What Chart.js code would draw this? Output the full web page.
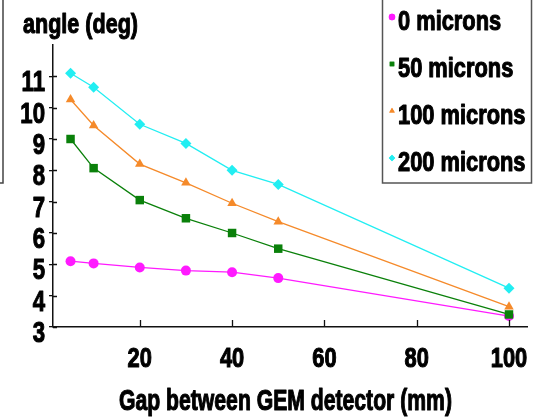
<!DOCTYPE html>
<html>
<head>
<meta charset="utf-8">
<script src="https://cdn.jsdelivr.net/npm/chart.js@4"></script>
<style>
  body { margin: 0; background: #fff; }
  #wrap { width: 533px; height: 420px; position: relative; }
</style>
</head>
<body>
<div id="wrap"><canvas id="gapChart" width="533" height="420"></canvas></div>
<script>
const FONT = "'Liberation Sans', Arial, sans-serif";

// data
const gapMm = [5, 10, 20, 30, 40, 50, 100];
const seriesNames = ["0 microns", "50 microns", "100 microns", "200 microns"];
const angle0 = [5.1, 5.03, 4.9, 4.8, 4.75, 4.56, 3.35];
const angle50 = [9.0, 8.07, 7.05, 6.47, 6.0, 5.5, 3.4];
const angle100 = [10.26, 9.43, 8.2, 7.6, 6.95, 6.36, 3.65];
const angle200 = [11.1, 10.65, 9.47, 8.86, 8.0, 7.55, 4.24];
const xTicks = [20, 40, 60, 80, 100];
const yTicks = [3, 4, 5, 6, 7, 8, 9, 10, 11];
const xTitle = "Gap between GEM detector (mm)";
const yTitle = "angle (deg)";

const colors = ["#ff1aff", "#0a800a", "#f58a2a", "#22eef2"];
const styles = ["circle", "rect", "triangle", "rectRot"];
const radii = [5, 6, 5.5, 5.5];

const series = [angle0, angle50, angle100, angle200];
const datasets = series.map((vals, i) => ({
  label: seriesNames[i],
  data: vals.map((v, j) => ({ x: gapMm[j], y: v })),
  borderColor: colors[i],
  backgroundColor: colors[i],
  borderWidth: 1.3,
  pointStyle: styles[i],
  pointRadius: radii[i],
  pointBorderWidth: 0,
  tension: 0,
  order: 3 - i
}));

// the original lettering is a condensed heavy face; squeeze Liberation Sans and thicken it
function narrowText(ctx, text, x, y, size, align, squeeze) {
  ctx.save();
  ctx.translate(x, y);
  ctx.scale(squeeze, 1);
  ctx.font = "bold " + size + "px " + FONT;
  ctx.textAlign = align;
  ctx.textBaseline = "alphabetic";
  ctx.fillStyle = "#000";
  ctx.strokeStyle = "#000";
  ctx.lineWidth = 1.1;
  ctx.lineJoin = "round";
  ctx.fillText(text, 0, 0);
  ctx.strokeText(text, 0, 0);
  ctx.restore();
}

// inner tick marks, tick labels, titles, legend box
const decor = {
  id: "decor",
  afterDraw(chart) {
    const ctx = chart.ctx;
    const xs = chart.scales.x, ys = chart.scales.y;
    ctx.save();
    ctx.strokeStyle = "#111";
    ctx.lineWidth = 1.3;
    ctx.beginPath();
    xs.ticks.forEach(t => {
      const px = Math.round(xs.getPixelForValue(t.value)) + 0.5;
      ctx.moveTo(px, ys.bottom);
      ctx.lineTo(px, ys.bottom - 7);
    });
    ys.ticks.forEach(t => {
      const py = Math.round(ys.getPixelForValue(t.value)) + 0.5;
      ctx.moveTo(xs.left, py);
      ctx.lineTo(xs.left + 4, py);
    });
    ctx.stroke();
    ctx.restore();

    xs.ticks.forEach(t => {
      narrowText(ctx, String(t.value), xs.getPixelForValue(t.value), ys.bottom + 40, 28, "center", 0.78);
    });
    ys.ticks.forEach(t => {
      narrowText(ctx, String(t.value), xs.left - 8, ys.getPixelForValue(t.value) + 15, 30, "right", 0.74);
    });
    narrowText(ctx, xTitle, 285.5, 410, 29, "center", 0.73);
    narrowText(ctx, yTitle, 23, 33, 28, "left", 0.77);

    ctx.save();
    // scrap of a neighbouring box on the left edge
    ctx.strokeStyle = "#444";
    ctx.lineWidth = 1.5;
    ctx.beginPath();
    ctx.moveTo(3, 0);
    ctx.lineTo(3, 183);
    ctx.lineTo(0, 183);
    ctx.stroke();

    // legend
    ctx.fillStyle = "#fff";
    ctx.fillRect(382, -2, 150, 185);
    ctx.strokeStyle = "#555";
    ctx.strokeRect(382.5, -2, 149, 185);
    const baselines = [30, 77, 124, 171];
    chart.data.datasets.forEach((ds, i) => {
      ctx.fillStyle = ds.backgroundColor;
      Chart.helpers.drawPoint(ctx, { pointStyle: ds.pointStyle, radius: 3.2, rotation: 0, borderWidth: 0 }, 392, baselines[i] - 13);
      ctx.fill();
      narrowText(ctx, ds.label, 398, baselines[i], 28, "left", 0.78);
    });
    ctx.restore();
  }
};

new Chart(document.getElementById("gapChart"), {
  type: "line",
  data: { datasets },
  options: {
    responsive: false,
    animation: false,
    layout: { padding: { top: 45, right: 5, left: 0, bottom: 0 } },
    plugins: {
      legend: { display: false },
      tooltip: { enabled: false }
    },
    scales: {
      x: {
        type: "linear",
        min: 1.2,
        max: 103.9,
        afterBuildTicks: s => { s.ticks = xTicks.map(v => ({ value: v })); },
        afterFit: s => { s.height = 93; },
        grid: { drawOnChartArea: false, drawTicks: false },
        border: { color: "#111", width: 1.5 },
        ticks: { display: false }
      },
      y: {
        min: 3,
        max: 12,
        afterBuildTicks: s => { s.ticks = yTicks.map(v => ({ value: v })); },
        afterFit: s => { s.width = 53; },
        grid: { drawOnChartArea: false, tickLength: 4, color: "#111", lineWidth: 1.3 },
        border: { color: "#111", width: 1.5 },
        ticks: { display: false }
      }
    }
  },
  plugins: [decor]
});
</script>
</body>
</html>
